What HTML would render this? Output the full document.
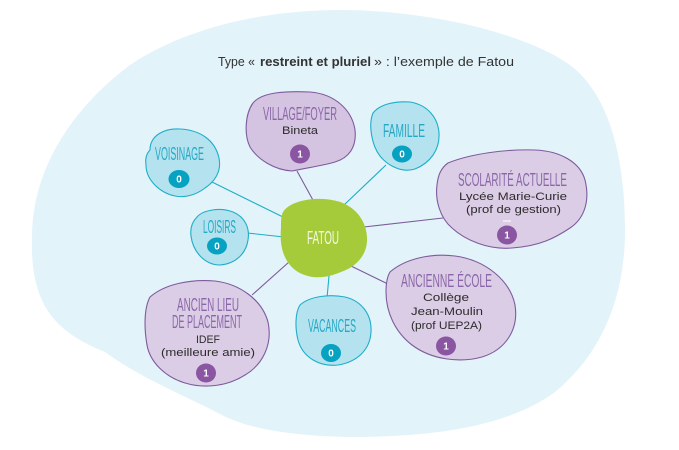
<!DOCTYPE html>
<html>
<head>
<meta charset="utf-8">
<style>
html,body{margin:0;padding:0;background:#fff;}
body{width:679px;height:450px;overflow:hidden;}
svg{display:block;}
.h{font-family:"Liberation Sans Narrow","Liberation Sans",sans-serif;font-size:18px;}
.hp{fill:#8a66a9;}
.hb{fill:#26a8c5;}
.b{font-family:"Liberation Sans",sans-serif;font-size:11px;fill:#2b2b2b;}
.n{font-family:"Liberation Sans",sans-serif;font-size:10px;font-weight:bold;fill:#fff;text-anchor:middle;}
.pb{fill:#dccde6;stroke:#7d5b9c;stroke-width:1.1;}
.bb{fill:#b4e3ef;stroke:#1eaec8;stroke-width:1.1;}
.lp{stroke:#7d5b9c;stroke-width:1.1;}
.lb{stroke:#1eaec8;stroke-width:1.1;}
</style>
</head>
<body>
<svg width="679" height="450" viewBox="0 0 679 450" xmlns="http://www.w3.org/2000/svg">
  <!-- background blob -->
  <path d="M340,10 C420,10 520,30 570,65 C610,95 625,160 625,230 C625,300 600,355 555,392 C510,425 440,437 350,437 C290,436 245,428 220,414 C190,398 140,378 105,352 C50,330 30,300 32,235 C33,170 70,110 130,65 C190,25 270,10 340,10 Z" fill="#e3f3fa"/>

  <!-- title -->
  <text x="218" y="66" font-family="Liberation Sans, sans-serif" font-size="12.5" fill="#333" textLength="37" lengthAdjust="spacingAndGlyphs">Type «</text>
  <text x="260" y="66" font-family="Liberation Sans, sans-serif" font-size="12.5" font-weight="bold" fill="#333" textLength="111" lengthAdjust="spacingAndGlyphs">restreint et pluriel</text>
  <text x="374" y="66" font-family="Liberation Sans, sans-serif" font-size="12.5" fill="#333" textLength="140" lengthAdjust="spacingAndGlyphs">» : l’exemple de Fatou</text>

  <!-- connectors -->
  <line class="lp" x1="297" y1="171" x2="314" y2="202"/>
  <line class="lb" x1="212" y1="182" x2="285" y2="218"/>
  <line class="lb" x1="386" y1="165" x2="344" y2="205"/>
  <line class="lp" x1="364" y1="227" x2="443" y2="218"/>
  <line class="lb" x1="247" y1="233" x2="284" y2="237"/>
  <line class="lp" x1="252" y1="295" x2="289" y2="262"/>
  <line class="lb" x1="329" y1="276" x2="327" y2="298"/>
  <line class="lp" x1="351" y1="266" x2="390" y2="285"/>

  <!-- bubbles -->
  <path class="bb" d="M150,150 C150,135 165,128 180,129 C200,130 215,140 219,158 C222,172 214,182 205,188 C196,195 185,198 175,196 C160,193 146,180 146,165 C145,158 147,153 150,150 Z"/>
  <path class="pb" fill="#d5c3e0" style="fill:#d5c4e1" d="M253,103 C262,92 285,91 310,92 C335,94 352,110 355,130 C357,148 348,158 335,162 C322,166 305,168 292,171 C275,170 258,160 250,147 C244,135 245,114 253,103 Z"/>
  <path class="bb" d="M373,113 C380,104 395,101 410,102 C428,105 438,118 439,133 C440,150 430,163 415,169 C402,173 388,166 380,156 C372,146 368,125 373,113 Z"/>
  <path class="pb" d="M448,163 C470,154 505,149 535,150 C560,151 580,162 585,180 C590,200 585,218 570,228 C555,238 540,246 512,248 C488,250 465,240 452,228 C440,218 435,200 437,185 C438,175 441,168 448,163 Z"/>
  <path class="bb" d="M197,217 C203,210 220,207 233,212 C245,217 250,228 248,240 C246,254 235,264 220,265 C205,265 193,252 191,236 C190,228 192,222 197,217 Z"/>
  <path class="pb" d="M150,297 C165,284 190,279 215,281 C240,284 262,300 268,322 C273,345 262,365 245,375 C228,386 205,389 185,383 C165,377 150,362 147,345 C144,328 144,308 150,297 Z"/>
  <path class="bb" d="M300,305 C310,296 330,294 345,297 C362,301 372,315 371,332 C370,350 357,362 338,365 C320,367 303,358 298,340 C295,328 295,313 300,305 Z"/>
  <path class="pb" d="M390,272 C405,259 430,253 455,256 C485,260 510,280 515,305 C519,330 505,350 482,357 C460,363 432,360 412,345 C395,332 386,312 386,292 C386,283 387,277 390,272 Z"/>

  <!-- FATOU center -->
  <path d="M283,212 C291,200 315,197 332,200 C352,203 366,218 367,237 C368,255 356,267 341,272 C327,278 312,280 298,272 C285,264 279,248 281,228 C281,221 281,216 283,212 Z" fill="#a6cb3a"/>

  <!-- headings -->
  <text class="h hb" x="155" y="160" textLength="49" lengthAdjust="spacingAndGlyphs">VOISINAGE</text>
  <text class="h hp" x="263" y="120" textLength="74" lengthAdjust="spacingAndGlyphs">VILLAGE/FOYER</text>
  <text class="h hb" x="383" y="137" textLength="42" lengthAdjust="spacingAndGlyphs">FAMILLE</text>
  <text class="h hp" x="458" y="186" textLength="109" lengthAdjust="spacingAndGlyphs">SCOLARITÉ ACTUELLE</text>
  <text class="h hb" x="203" y="233" textLength="33" lengthAdjust="spacingAndGlyphs">LOISIRS</text>
  <text class="h" x="307" y="244" fill="#f4f8e4" textLength="32" lengthAdjust="spacingAndGlyphs">FATOU</text>
  <text class="h hp" x="177" y="311" textLength="62" lengthAdjust="spacingAndGlyphs">ANCIEN LIEU</text>
  <text class="h hp" x="172" y="328" textLength="70" lengthAdjust="spacingAndGlyphs">DE PLACEMENT</text>
  <text class="h hb" x="308" y="332" textLength="48" lengthAdjust="spacingAndGlyphs">VACANCES</text>
  <text class="h hp" x="401" y="287" textLength="91" lengthAdjust="spacingAndGlyphs">ANCIENNE ÉCOLE</text>

  <!-- body text -->
  <text class="b" x="282" y="134" textLength="36" lengthAdjust="spacingAndGlyphs">Bineta</text>
  <text class="b" x="459" y="200" textLength="108" lengthAdjust="spacingAndGlyphs">Lycée Marie-Curie</text>
  <text class="b" x="466" y="213" textLength="95" lengthAdjust="spacingAndGlyphs">(prof de gestion)</text>
  <text class="b" x="423" y="301" textLength="46" lengthAdjust="spacingAndGlyphs">Collège</text>
  <text class="b" x="411" y="315" textLength="72" lengthAdjust="spacingAndGlyphs">Jean-Moulin</text>
  <text class="b" x="411" y="329" textLength="71" lengthAdjust="spacingAndGlyphs">(prof UEP2A)</text>
  <text class="b" x="196" y="343" textLength="24" lengthAdjust="spacingAndGlyphs">IDEF</text>
  <text class="b" x="161" y="356" textLength="94" lengthAdjust="spacingAndGlyphs">(meilleure amie)</text>

  <!-- small white dash -->
  <line x1="503" y1="221" x2="511" y2="221" stroke="#fff" stroke-width="1"/>

  <!-- badges -->
  <g>
    <ellipse cx="179" cy="179" rx="10.5" ry="9" fill="#07a2c2"/>
    <text class="n" x="179" y="182.5">0</text>
    <ellipse cx="300" cy="154" rx="10" ry="9.5" fill="#8a55a1"/>
    <text class="n" x="300" y="157.5">1</text>
    <ellipse cx="402" cy="154" rx="10" ry="8.5" fill="#07a2c2"/>
    <text class="n" x="402" y="157.5">0</text>
    <ellipse cx="507" cy="235" rx="10" ry="9.5" fill="#8a55a1"/>
    <text class="n" x="507" y="238.5">1</text>
    <ellipse cx="217" cy="246" rx="10" ry="8.5" fill="#07a2c2"/>
    <text class="n" x="217" y="249.5">0</text>
    <ellipse cx="206" cy="373" rx="10" ry="9.5" fill="#8a55a1"/>
    <text class="n" x="206" y="376.5">1</text>
    <ellipse cx="331" cy="353" rx="10" ry="9" fill="#07a2c2"/>
    <text class="n" x="331" y="356.5">0</text>
    <ellipse cx="446" cy="346" rx="10" ry="9.5" fill="#8a55a1"/>
    <text class="n" x="446" y="349.5">1</text>
  </g>
</svg>
</body>
</html>
